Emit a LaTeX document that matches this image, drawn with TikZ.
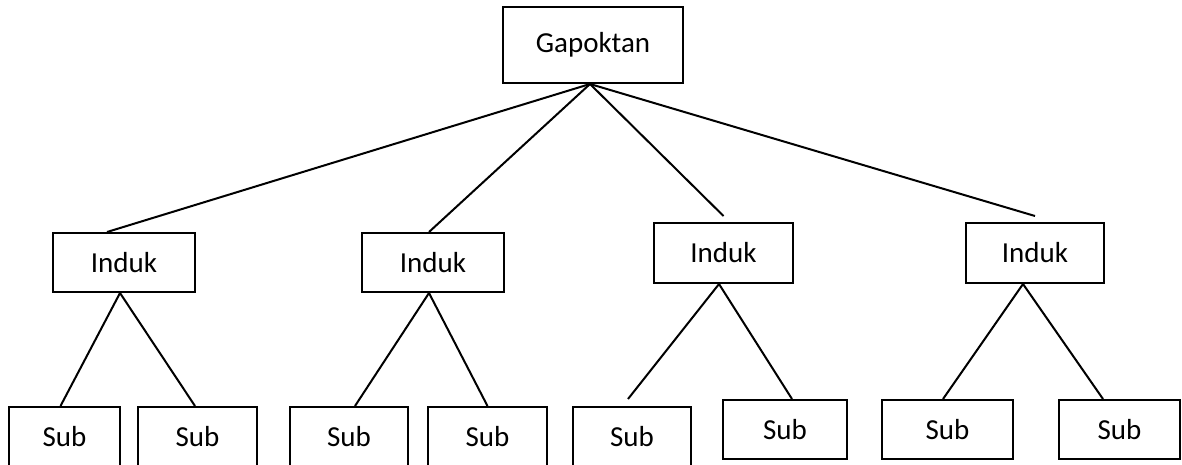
\documentclass[tikz,border=0pt]{standalone}
\usepackage{fontspec}
\setmainfont{Carlito}
\begin{document}
\begin{tikzpicture}[x=1pt,y=-1pt,
  box/.style={draw=black,line width=2pt,inner sep=0pt,font=\fontsize{29}{35}\selectfont},
  link/.style={draw=black,line width=2pt}]
\useasboundingbox (0,0) rectangle (1182,464);
\clip (0,0) rectangle (1182,464);
% root
\node[box,minimum width=180pt,minimum height=76pt] (G) at (593,45) {Gapoktan};
% second level
\node[box,minimum width=142pt,minimum height=59pt] (I1) at (124,262.5) {Induk};
\node[box,minimum width=142pt,minimum height=59pt] (I2) at (433,262.5) {Induk};
\node[box,minimum width=139pt,minimum height=60pt] (I3) at (723.5,253) {Induk};
\node[box,minimum width=138pt,minimum height=60pt] (I4) at (1035,253) {Induk};
% leaves
\node[box,minimum width=111pt,minimum height=60pt] (S1) at (64.5,437) {Sub};
\node[box,minimum width=119pt,minimum height=60pt] (S2) at (197.5,437) {Sub};
\node[box,minimum width=118pt,minimum height=60pt] (S3) at (349,437) {Sub};
\node[box,minimum width=119pt,minimum height=60pt] (S4) at (487.5,437) {Sub};
\node[box,minimum width=118pt,minimum height=60pt] (S5) at (632,437) {Sub};
\node[box,minimum width=124pt,minimum height=59pt] (S6) at (785,429.5) {Sub};
\node[box,minimum width=131pt,minimum height=59pt] (S7) at (947.5,429.5) {Sub};
\node[box,minimum width=121pt,minimum height=59pt] (S8) at (1119.5,429.5) {Sub};
% connectors from the root
\coordinate (g) at ([xshift=-3pt]G.south);
\draw[link] (g) -- ([xshift=-17pt]I1.north);
\draw[link] (g) -- ([xshift=-4pt]I2.north);
\draw[link] (g) -- ([yshift=6pt]I3.north);
\draw[link] (g) -- ([yshift=6pt]I4.north);
% connectors to the leaves
\draw[link] ([xshift=-4pt]S1.north) -- ([xshift=-4pt]I1.south) -- ([xshift=-2.5pt]S2.north);
\draw[link] ([xshift=6pt]S3.north) -- ([xshift=-4pt]I2.south) -- (S4.north);
\draw[link] ([xshift=-4pt,yshift=7pt]S5.north) -- ([xshift=-4.5pt]I3.south) -- ([xshift=7pt]S6.north);
\draw[link] ([xshift=-4.5pt]S7.north) -- ([xshift=-12pt]I4.south) -- ([xshift=-16.5pt]S8.north);
\end{tikzpicture}
\end{document}
